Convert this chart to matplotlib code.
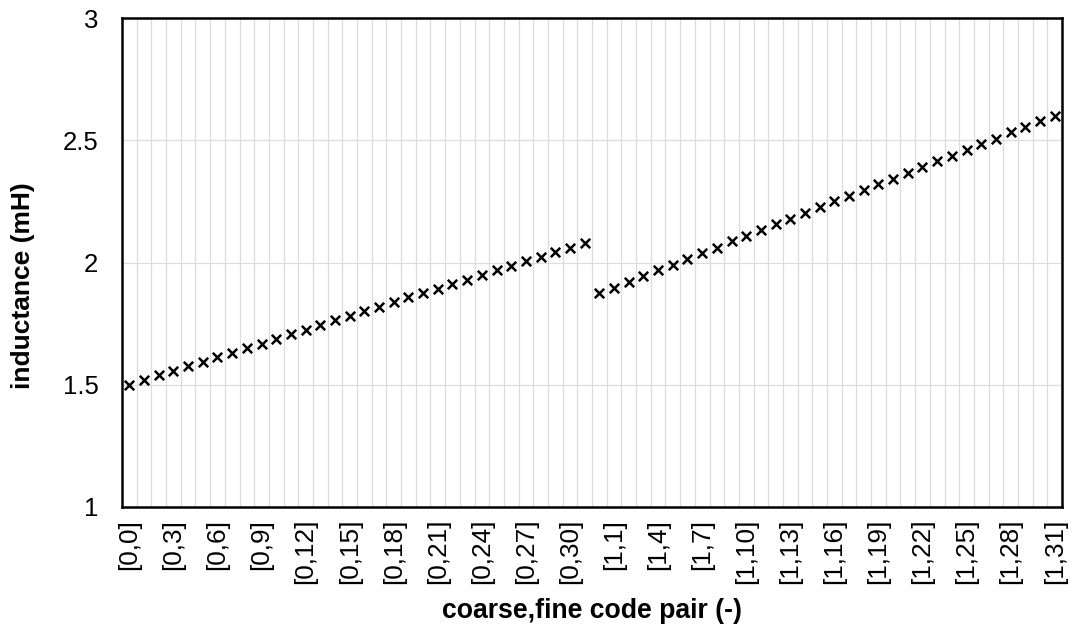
import matplotlib
matplotlib.use("Agg")
import matplotlib.pyplot as plt
import numpy as np

plt.rcParams['font.family'] = ['Liberation Sans', 'DejaVu Sans']

coarse_codes = [0, 1]
fine_codes = list(range(32))
inductance_c0 = [1.501, 1.520, 1.538, 1.557, 1.576, 1.592, 1.612, 1.631,
                 1.650, 1.668, 1.689, 1.706, 1.725, 1.743, 1.764, 1.780,
                 1.800, 1.819, 1.838, 1.857, 1.875, 1.893, 1.911, 1.930,
                 1.949, 1.968, 1.986, 2.005, 2.023, 2.042, 2.061, 2.080]
inductance_c1 = [1.875, 1.897, 1.920, 1.944, 1.968, 1.990, 2.015, 2.039,
                 2.060, 2.086, 2.109, 2.132, 2.156, 2.179, 2.203, 2.228,
                 2.252, 2.273, 2.296, 2.320, 2.343, 2.367, 2.391, 2.414,
                 2.437, 2.462, 2.485, 2.507, 2.533, 2.556, 2.579, 2.601]
y_ticks = [1, 1.5, 2, 2.5, 3]

categories = [f"[{c},{f}]" for c in coarse_codes for f in fine_codes]
values = inductance_c0 + inductance_c1
x = np.arange(len(categories))

fig = plt.figure(figsize=(10.75, 6.32), dpi=100)
ax = fig.add_axes([122/1075, 1 - 507/632, 940/1075, 489/632])

ax.scatter(x, values, marker='x', s=46, color='black', linewidths=1.8, zorder=3)

ax.set_xlim(-0.5, len(categories) - 0.5)
ax.set_ylim(1, 3)
ax.set_yticks(y_ticks)
ax.set_yticklabels([f"{v:g}" for v in y_ticks])
ax.set_xticks(x[::3])
ax.set_xticklabels(categories[::3], rotation=90)
ax.set_xticks(np.arange(len(categories) + 1) - 0.5, minor=True)

ax.grid(axis='x', which='minor', color='#dcdcdc', linewidth=0.9, zorder=0)
ax.grid(axis='y', which='major', color='#dcdcdc', linewidth=0.9, zorder=0)
ax.grid(axis='x', which='major', visible=False)
ax.set_axisbelow(True)

ax.tick_params(axis='both', which='both', length=0)
ax.tick_params(axis='y', labelsize=18.5, pad=17)
ax.tick_params(axis='x', labelsize=18.8, pad=8.5)

for sp in ax.spines.values():
    sp.set_linewidth(1.8)
    sp.set_color('black')

fig.text(592/1075, 1 - 618/632, "coarse,fine code pair (-)", fontsize=19.2,
         fontweight='bold', ha='center', va='baseline')
fig.text(23/1075, 1 - 286/632, "inductance (mH)", fontsize=19, fontweight='bold',
         ha='center', va='center', rotation=90)

fig.savefig("out.png", dpi=100)
